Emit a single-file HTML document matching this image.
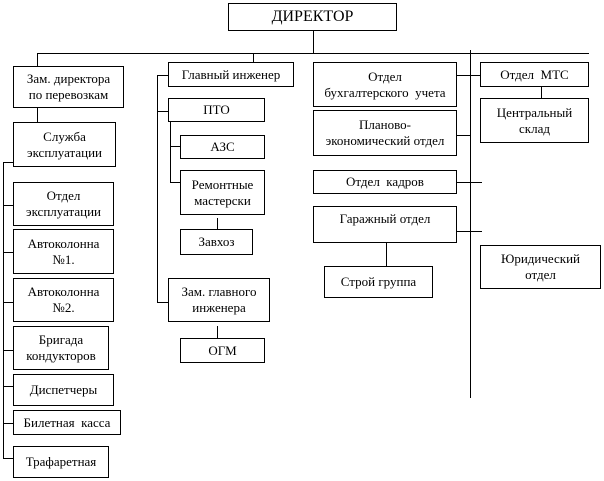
<!DOCTYPE html>
<html><head><meta charset="utf-8"><style>
body{margin:0;width:604px;height:481px;background:#fff;position:relative;overflow:hidden;font-family:"Liberation Serif","DejaVu Serif",serif;font-size:13px;color:#000}
.b{position:absolute;box-sizing:border-box;border:1px solid #000;background:#fff;display:flex;align-items:center;justify-content:center;text-align:center;line-height:16px}
svg{position:absolute;left:0;top:0}
</style></head><body>
<svg width="604" height="481" stroke="#000" stroke-width="1" fill="none" shape-rendering="crispEdges">
<line x1="313.5" y1="30" x2="313.5" y2="53"/>
<line x1="37" y1="53.5" x2="589" y2="53.5"/>
<line x1="37.5" y1="53" x2="37.5" y2="66"/>
<line x1="37.5" y1="107" x2="37.5" y2="122"/>
<line x1="3.5" y1="162" x2="3.5" y2="458"/>
<line x1="3" y1="162.5" x2="13" y2="162.5"/>
<line x1="3" y1="205.5" x2="13" y2="205.5"/>
<line x1="3" y1="252.5" x2="13" y2="252.5"/>
<line x1="3" y1="302.5" x2="13" y2="302.5"/>
<line x1="3" y1="350.5" x2="13" y2="350.5"/>
<line x1="3" y1="386.5" x2="13" y2="386.5"/>
<line x1="3" y1="423.5" x2="13" y2="423.5"/>
<line x1="3" y1="458.5" x2="13" y2="458.5"/>
<line x1="253.5" y1="53" x2="253.5" y2="62"/>
<line x1="157.5" y1="75" x2="157.5" y2="302"/>
<line x1="157" y1="75.5" x2="168" y2="75.5"/>
<line x1="157" y1="111.5" x2="168" y2="111.5"/>
<line x1="157" y1="302.5" x2="168" y2="302.5"/>
<line x1="170.5" y1="121" x2="170.5" y2="182"/>
<line x1="170" y1="146.5" x2="180" y2="146.5"/>
<line x1="170" y1="182.5" x2="180" y2="182.5"/>
<line x1="217.5" y1="218" x2="217.5" y2="229"/>
<line x1="217.5" y1="326" x2="217.5" y2="338"/>
<line x1="470.5" y1="50" x2="470.5" y2="398"/>
<line x1="456" y1="75.5" x2="480" y2="75.5"/>
<line x1="541.5" y1="86" x2="541.5" y2="98"/>
<line x1="456" y1="135.5" x2="470" y2="135.5"/>
<line x1="456" y1="182.5" x2="482" y2="182.5"/>
<line x1="456" y1="231.5" x2="482" y2="231.5"/>
<line x1="386.5" y1="242" x2="386.5" y2="266"/>
</svg>
<div class="b" style="left:228px;top:3px;width:169px;height:28px;font-size:16px">ДИРЕКТОР</div>
<div class="b" style="left:13px;top:66px;width:111px;height:42px">Зам. директора<br>по перевозкам</div>
<div class="b" style="left:13px;top:122px;width:103px;height:45px">Служба<br>эксплуатации</div>
<div class="b" style="left:13px;top:182px;width:101px;height:44px">Отдел<br>эксплуатации</div>
<div class="b" style="left:13px;top:229px;width:101px;height:45px">Автоколонна<br>№1.</div>
<div class="b" style="left:13px;top:278px;width:101px;height:44px">Автоколонна<br>№2.</div>
<div class="b" style="left:13px;top:326px;width:96px;height:44px">Бригада<br>кондукторов</div>
<div class="b" style="left:13px;top:374px;width:101px;height:32px">Диспетчеры</div>
<div class="b" style="left:13px;top:410px;width:108px;height:25px">Билетная&nbsp; касса</div>
<div class="b" style="left:13px;top:446px;width:96px;height:32px">Трафаретная</div>
<div class="b" style="left:168px;top:62px;width:126px;height:25px">Главный инженер</div>
<div class="b" style="left:168px;top:98px;width:97px;height:24px">ПТО</div>
<div class="b" style="left:180px;top:135px;width:85px;height:24px">АЗС</div>
<div class="b" style="left:180px;top:170px;width:85px;height:45px">Ремонтные<br>мастерски</div>
<div class="b" style="left:180px;top:229px;width:73px;height:26px">Завхоз</div>
<div class="b" style="left:168px;top:278px;width:102px;height:44px">Зам. главного<br>инженера</div>
<div class="b" style="left:180px;top:338px;width:85px;height:25px">ОГМ</div>
<div class="b" style="left:313px;top:62px;width:144px;height:45px">Отдел<br>бухгалтерского&nbsp; учета</div>
<div class="b" style="left:313px;top:110px;width:144px;height:46px">Планово-<br>экономический отдел</div>
<div class="b" style="left:313px;top:170px;width:144px;height:24px">Отдел&nbsp; кадров</div>
<div class="b" style="left:313px;top:206px;width:144px;height:37px;align-items:flex-start;padding-top:4px">Гаражный отдел</div>
<div class="b" style="left:324px;top:266px;width:109px;height:32px">Строй группа</div>
<div class="b" style="left:480px;top:62px;width:109px;height:25px">Отдел&nbsp; МТС</div>
<div class="b" style="left:480px;top:98px;width:109px;height:45px">Центральный<br>склад</div>
<div class="b" style="left:480px;top:245px;width:121px;height:44px">Юридический<br>отдел</div>
</body></html>
